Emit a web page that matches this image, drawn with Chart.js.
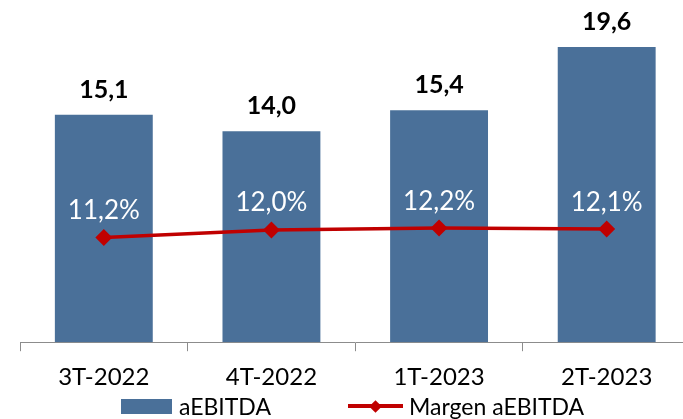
<!DOCTYPE html>
<html>
<head>
<meta charset="utf-8">
<script src="https://cdn.jsdelivr.net/npm/chart.js@4"></script>
<style>
  html, body { margin: 0; padding: 0; background: #fff; overflow: hidden; }
  #wrap { position: relative; width: 700px; height: 419px; }
  .legend { position: absolute; top: 393px; font-family: Lato, sans-serif; font-size: 23px; color: #000; line-height: 26px; white-space: nowrap; }
  .swatch { position: absolute; left: 0; width: 51px; height: 15px; background: #4A7099; top: 6px; }
  .lline { position: absolute; left: 0; width: 55px; height: 4px; background: #C00000; top: 11px; }
  .ldiam { position: absolute; width: 9px; height: 9px; background: #C00000; transform: rotate(45deg); top: -2.5px; left: 23px; }
</style>
</head>
<body>
<div id="wrap">
  <canvas id="chart" width="700" height="419"></canvas>
  <div class="legend" style="left:121px;"><div class="swatch"></div><span style="margin-left:58px;">aEBITDA</span></div>
  <div class="legend" style="left:348px;"><div class="lline"><div class="ldiam"></div></div><span style="margin-left:61px;">Margen aEBITDA</span></div>
</div>
<script>
// Data
const quarters = ['3T-2022', '4T-2022', '1T-2023', '2T-2023'];
const ebitda = [15.1, 14.0, 15.4, 19.6];
const margin = [11.2, 12.0, 12.2, 12.1];

const fmt = (v, d) => v.toFixed(d).replace('.', ',');

// Draw value labels above bars and points
const valueLabels = {
    id: 'valueLabels',
    afterDatasetsDraw(chart) {
        const ctx = chart.ctx;
        ctx.save();
        ctx.textAlign = 'center';
        ctx.textBaseline = 'alphabetic';

        // bars are dataset 1
        ctx.font = "bold 25px Lato, sans-serif";
        ctx.fillStyle = '#000';
        chart.getDatasetMeta(1).data.forEach((bar, i) => {
            ctx.fillText(fmt(ebitda[i], 1), bar.x, bar.y - 17);
        });

        // line is dataset 0
        ctx.font = "26px Lato, sans-serif";
        ctx.fillStyle = '#fff';
        chart.getDatasetMeta(0).data.forEach((pt, i) => {
            ctx.fillText(fmt(margin[i], 1) + '%', pt.x, pt.y - 18.5);
        });
        ctx.restore();
    }
};

new Chart(document.getElementById('chart'), {
    data: {
        labels: quarters,
        datasets: [
            {
                type: 'line',
                label: 'Margen aEBITDA',
                data: margin,
                yAxisID: 'y1',
                borderColor: '#C00000',
                backgroundColor: '#C00000',
                borderWidth: 3.5,
                pointStyle: 'rectRot',
                pointRadius: 6,
                pointHoverRadius: 6,
                tension: 0,
                order: 0
            },
            {
                type: 'bar',
                label: 'aEBITDA',
                data: ebitda,
                yAxisID: 'y',
                backgroundColor: '#4A7099',
                borderWidth: 0,
                categoryPercentage: 1,
                barPercentage: 0.584,
                order: 1
            }
        ]
    },
    options: {
        responsive: false,
        animation: false,
        layout: { padding: { top: 41, left: 20, right: 9, bottom: 15 } },
        plugins: {
            legend: { display: false },
            tooltip: { enabled: false }
        },
        scales: {
            x: {
                grid: { display: true, drawOnChartArea: false, drawTicks: true, tickLength: 9, color: '#8c8c8c', offset: true },
                border: { display: true, color: '#8c8c8c', width: 1 },
                ticks: { color: '#000', font: { family: 'Lato', size: 24 }, padding: 12 }
            },
            y: { display: false, min: 0, max: 20 },
            y1: { display: false, min: 0, max: 32.2, position: 'right' }
        }
    },
    plugins: [valueLabels]
});
</script>
</body>
</html>
